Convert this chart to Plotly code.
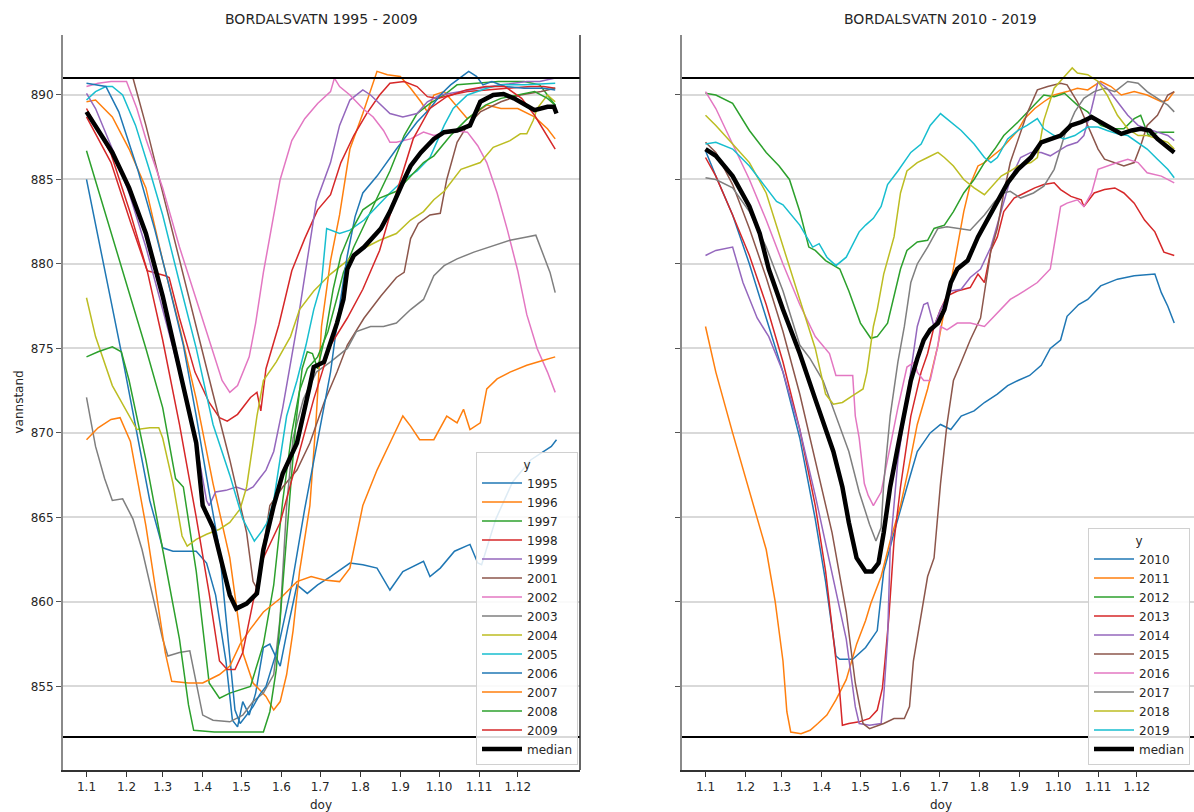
import plotly.graph_objects as go

# ---- axis ticks / reference levels ----
TICK_DOY = [1, 32, 60, 91, 121, 152, 182, 213, 244, 274, 305, 335]
TICK_TEXT = ["1.1", "1.2", "1.3", "1.4", "1.5", "1.6", "1.7", "1.8", "1.9", "1.10", "1.11", "1.12"]
Y_TICKS = [855, 860, 865, 870, 875, 880, 885, 890]
HRV = 891
LRV = 852

# ---- 1995 - 2009 ----
doy_1995 = [1, 10, 20, 30, 40, 50, 60, 68, 86, 94, 101, 109, 114, 118, 122, 127, 132, 138, 143, 151, 157, 164, 172, 180, 190, 205, 215, 226, 236, 246, 262, 267, 275, 286, 298, 304, 307, 318, 331, 345, 361, 365]
lvl_1995 = [885, 881.5, 877.8, 874, 870, 866, 863.2, 863, 863, 862.3, 860.4, 856.5, 853, 852.6, 854.1, 853.3, 854.6, 857.3, 857.5, 856.2, 858.5, 861, 860.5, 861, 861.5, 862.3, 862.2, 862, 860.7, 861.8, 862.4, 861.5, 862, 863, 863.4, 862.3, 862.2, 864.9, 867.1, 868.4, 869.2, 869.6]

doy_1996 = [1, 8, 21, 34, 47, 60, 73, 86, 99, 112, 122, 130, 140, 146, 151, 156, 161, 166, 174, 179, 183, 190, 197, 205, 215, 223, 226, 234, 244, 252, 260, 265, 270, 278, 285, 296, 311, 322, 335, 348, 358, 364]
lvl_1996 = [889.6, 889.7, 888.7, 886.8, 884.5, 880.2, 876.3, 872, 867, 862.6, 857, 855.2, 854.4, 853.6, 854.1, 855.7, 858.3, 861.8, 865.7, 871, 876.3, 880.2, 882.9, 886.8, 888.9, 890.8, 891.4, 891.2, 891.1, 890.4, 889.6, 889, 890, 890.2, 889.6, 888.6, 889.4, 889.2, 889.2, 888.7, 888, 887.4]

doy_1997 = [1, 21, 34, 47, 60, 70, 76, 86, 96, 104, 112, 120, 128, 138, 146, 153, 160, 166, 172, 180, 188, 195, 200, 208, 215, 226, 236, 247, 257, 267, 278, 288, 303, 320, 340, 352, 358, 364]
lvl_1997 = [886.7, 881.6, 878.4, 875, 871.5, 867.3, 866.8, 861.8, 855.2, 854.3, 854.6, 854.8, 855, 857.5, 861, 866, 870, 872.5, 873.8, 874.5, 876, 878, 879.5, 881, 882.1, 883.9, 885.5, 887.6, 888.9, 889.5, 890, 890.6, 890.7, 890.8, 890.8, 890.6, 890, 889.4]

doy_1998 = [1, 20, 35, 48, 62, 65, 73, 85, 96, 104, 110, 118, 128, 133, 136, 140, 150, 160, 170, 180, 190, 198, 208, 218, 228, 236, 247, 257, 265, 273, 283, 296, 311, 330, 345, 355, 364]
lvl_1998 = [889.2, 886.5, 883, 879.6, 879.3, 879.2, 876.8, 873.6, 871.8, 870.9, 870.7, 871.1, 872.1, 872.4, 871.3, 873.8, 876.4, 879.6, 881.5, 883.2, 884.1, 886, 887.6, 888.9, 890, 890.7, 890.8, 890.5, 889.9, 889.8, 890, 890.2, 890.3, 890.4, 890.5, 890.5, 890.4]

doy_1999 = [1, 8, 21, 34, 47, 60, 73, 86, 94, 96, 101, 109, 117, 125, 130, 135, 140, 146, 153, 164, 172, 179, 190, 197, 205, 215, 221, 228, 236, 246, 257, 265, 275, 291, 306, 322, 342, 352, 364]
lvl_1999 = [890.1, 889.2, 886.8, 884.2, 881, 877.3, 873.6, 869.4, 866, 865.7, 866.5, 866.6, 866.8, 866.6, 866.8, 867.3, 867.8, 868.9, 871.5, 876.3, 880.2, 883.7, 886, 888.2, 889.7, 890.3, 890, 889.5, 888.9, 888.7, 888.9, 889.6, 890, 890.2, 890.4, 890.6, 890.8, 890.8, 891]

doy_2001 = [1, 37, 47, 60, 73, 86, 99, 112, 125, 130, 133, 143, 153, 164, 174, 185, 195, 203, 216, 229, 241, 247, 252, 258, 267, 275, 280, 288, 296, 306, 322, 337, 353, 364]
lvl_2001 = [891, 891, 888.2, 884.2, 880.2, 876.3, 872.3, 868.4, 864.1, 861.2, 860.8, 865.7, 866.8, 867.8, 869.4, 871.8, 873.6, 875.2, 876.8, 878.1, 879.2, 879.5, 881.5, 882.4, 882.9, 883, 885, 887.2, 888.2, 889, 889.6, 890, 890.2, 890.4]

doy_2002 = [1, 10, 20, 32, 40, 47, 60, 73, 86, 99, 106, 112, 118, 127, 132, 138, 145, 151, 160, 170, 180, 190, 193, 197, 205, 215, 223, 231, 236, 241, 252, 262, 270, 285, 296, 304, 311, 319, 327, 335, 342, 350, 358, 364]
lvl_2002 = [890.5, 890.7, 890.8, 890.8, 889.2, 887.4, 884.5, 881, 877.9, 874.7, 873.1, 872.4, 872.8, 874.5, 876.5, 879.5, 882.5, 885, 887.3, 888.6, 889.5, 890.2, 891, 890.5, 890, 889.2, 888.7, 887.9, 887.2, 887.2, 887.4, 887.8, 887.6, 887.9, 887.8, 887, 886, 884.2, 882, 879.6, 877, 875, 873.6, 872.4]

doy_2003 = [1, 8, 15, 21, 29, 37, 44, 52, 60, 64, 73, 81, 86, 91, 99, 112, 122, 130, 138, 146, 151, 156, 161, 169, 179, 190, 203, 210, 221, 231, 241, 252, 262, 270, 278, 288, 301, 316, 329, 342, 349, 355, 360, 364]
lvl_2003 = [872.1, 869.2, 867.3, 866, 866.1, 864.9, 863.1, 860.4, 857.8, 856.8, 857, 857.1, 855.2, 853.3, 853, 852.9, 853.3, 854.1, 854.6, 855.7, 859.1, 865.7, 869.7, 872, 873.6, 874.2, 875, 876, 876.3, 876.3, 876.5, 877.3, 877.9, 879.3, 879.9, 880.3, 880.7, 881.1, 881.4, 881.6, 881.7, 880.5, 879.5, 878.3]

doy_2004 = [1, 8, 21, 34, 40, 50, 57, 60, 68, 75, 79, 86, 94, 104, 112, 120, 125, 130, 133, 138, 148, 159, 166, 177, 190, 203, 215, 228, 241, 252, 262, 270, 278, 291, 306, 316, 329, 337, 342, 347, 350, 358, 364]
lvl_2004 = [878, 875.7, 872.8, 871, 870.2, 870.3, 870.3, 869.7, 867, 863.9, 863.3, 863.7, 864, 864.3, 864.7, 865.5, 866.8, 869.4, 871, 873.1, 874.2, 875.7, 877.3, 878.4, 879.4, 880.2, 880.9, 881.4, 881.8, 882.6, 883.1, 883.8, 884.3, 885.6, 886, 886.9, 887.3, 887.7, 887.7, 888.5, 889.2, 890, 889.6]

doy_2005 = [1, 8, 16, 21, 29, 39, 50, 60, 73, 86, 99, 112, 122, 131, 137, 141, 146, 151, 156, 164, 171, 177, 183, 187, 190, 197, 205, 216, 226, 236, 247, 257, 267, 278, 285, 296, 311, 322, 340, 364]
lvl_2005 = [889.7, 890.2, 890.5, 890.5, 890, 888.2, 885.5, 882.9, 878.9, 875, 870.5, 867.5, 864.9, 863.6, 864.2, 864.7, 866, 868.4, 871, 873.1, 875.2, 877.3, 878.9, 882.1, 882, 881.8, 882, 882.6, 883.4, 884.2, 885, 885.5, 886.3, 888.2, 889.2, 890, 890.4, 890.6, 890.6, 890.7]

doy_2006 = [1, 16, 26, 41, 54, 64, 76, 86, 96, 104, 109, 113, 116, 120, 125, 130, 135, 140, 150, 160, 170, 180, 190, 196, 203, 209, 215, 226, 241, 257, 267, 275, 283, 290, 297, 303, 308, 315, 325, 340, 355, 364]
lvl_2006 = [890.7, 890.5, 889, 885.5, 882, 879, 875.2, 871, 866.5, 863.1, 859.1, 855.7, 853.6, 852.8, 853.3, 853.8, 854.5, 855, 857.5, 861, 865.5, 869.5, 873.6, 877, 880.5, 882.8, 884.2, 885.2, 886.8, 888.4, 889.2, 890, 890.6, 891, 891.4, 891.1, 890.6, 890.8, 890.5, 890.4, 890.4, 890.3]

doy_2007 = [1, 10, 20, 27, 35, 47, 55, 62, 67, 80, 91, 104, 112, 120, 128, 138, 151, 164, 175, 185, 197, 205, 215, 226, 236, 246, 252, 259, 270, 280, 288, 293, 298, 306, 311, 319, 329, 342, 355, 364]
lvl_2007 = [869.6, 870.3, 870.8, 870.9, 869.5, 864.5, 860.5, 857, 855.3, 855.2, 855.2, 855.7, 856.2, 857.5, 858.4, 859.4, 860.2, 861.2, 861.5, 861.3, 861.2, 862, 865.7, 867.8, 869.4, 871, 870.4, 869.6, 869.6, 871, 870.6, 871.4, 870.2, 870.6, 872.6, 873.2, 873.6, 874, 874.3, 874.5]

doy_2008 = [1, 10, 21, 28, 34, 47, 60, 73, 80, 84, 100, 120, 138, 143, 148, 153, 158, 163, 168, 172, 176, 180, 186, 192, 198, 205, 215, 228, 241, 252, 262, 270, 283, 296, 310, 322, 335, 348, 358, 364]
lvl_2008 = [874.5, 874.8, 875.1, 874.8, 873.1, 868.4, 863.1, 857.8, 853.9, 852.4, 852.3, 852.3, 852.3, 853.5, 856, 861, 866, 870.5, 873.8, 874.8, 874.7, 873.8, 875.8, 878.5, 880.5, 881.8, 883.2, 883.9, 884.3, 885.2, 886, 886.4, 887.6, 888.6, 889.4, 889.8, 890, 890.2, 889.8, 889.4]

doy_2009 = [1, 20, 35, 48, 60, 73, 86, 96, 104, 110, 116, 122, 130, 138, 151, 164, 177, 190, 203, 215, 228, 241, 254, 267, 280, 295, 310, 325, 338, 348, 356, 364]
lvl_2009 = [888.7, 886, 882.5, 879.6, 875.5, 870.5, 865, 860.5, 856.5, 856, 856, 857, 860, 862.6, 864.7, 868.4, 872, 875.2, 876.8, 878.5, 880.8, 884.2, 887.4, 889.2, 889.9, 890.3, 890.5, 890.5, 889.8, 888.8, 887.8, 886.8]

doy_med_a = [1, 8, 21, 34, 47, 60, 73, 86, 91, 99, 112, 117, 125, 133, 138, 146, 153, 164, 174, 177, 185, 195, 200, 203, 208, 216, 229, 236, 247, 252, 260, 270, 278, 288, 298, 306, 316, 324, 332, 342, 348, 358, 363, 365]
lvl_med_a = [889, 888.2, 886.6, 884.5, 881.8, 878.1, 873.6, 869.4, 865.7, 864.4, 860.4, 859.6, 859.9, 860.5, 863.1, 865.7, 867.6, 869.4, 872.8, 873.9, 874.2, 876.5, 877.9, 879.7, 880.5, 881, 882.1, 883.1, 885, 885.8, 886.6, 887.4, 887.8, 887.9, 888.2, 889.6, 890, 890.06, 889.8, 889.4, 889.1, 889.3, 889.3, 888.9]

# ---- 2010 - 2019 ----
doy_2010 = [1, 9, 22, 35, 48, 61, 74, 86, 94, 102, 105, 115, 125, 134, 139, 147, 157, 165, 175, 183, 191, 199, 209, 217, 227, 235, 243, 252, 261, 268, 276, 281, 290, 297, 307, 320, 333, 349, 354, 359, 364]
lvl_2010 = [886.7, 885.2, 882.9, 880, 876.8, 873.6, 869.7, 864.9, 861.2, 856.8, 856.6, 856.6, 857.3, 858.3, 861.8, 864.1, 866.8, 868.9, 870, 870.5, 870.2, 871, 871.3, 871.8, 872.3, 872.8, 873.1, 873.4, 874, 875, 875.5, 876.9, 877.6, 877.9, 878.7, 879.1, 879.3, 879.4, 878.3, 877.5, 876.5]

doy_2011 = [1, 9, 22, 35, 48, 55, 61, 64, 67, 75, 82, 88, 95, 102, 110, 118, 125, 129, 137, 144, 152, 158, 165, 173, 181, 186, 191, 196, 201, 206, 212, 217, 225, 230, 237, 243, 248, 256, 263, 271, 281, 289, 297, 307, 315, 323, 333, 343, 354, 359, 364]
lvl_2011 = [876.3, 873.6, 870, 866.5, 863.1, 860, 856.5, 853.5, 852.3, 852.2, 852.4, 852.8, 853.3, 854.2, 855.4, 857.5, 858.9, 859.9, 861.5, 863.6, 865.7, 867.8, 870.5, 872.6, 875.2, 877.3, 878.9, 881, 883.1, 884.7, 885.8, 886, 886.5, 886.8, 887.4, 887.9, 888.6, 889.2, 889.6, 890, 890.2, 890.4, 890.3, 890.8, 890.5, 890, 890.2, 890, 889.6, 889.7, 890.2]

doy_2012 = [1, 9, 22, 35, 48, 58, 66, 74, 81, 86, 94, 105, 112, 121, 129, 134, 142, 147, 152, 157, 165, 173, 178, 186, 193, 201, 209, 217, 225, 232, 243, 253, 263, 271, 279, 289, 297, 307, 315, 325, 333, 338, 344, 352, 364]
lvl_2012 = [890.1, 890, 889.5, 887.9, 886.6, 885.8, 885, 883.1, 881, 880.8, 880.2, 879.7, 878.4, 876.5, 875.6, 875.7, 876.5, 878.1, 879.7, 880.8, 881.3, 881.4, 882.1, 882.3, 883.1, 884.2, 885, 886, 886.8, 887.6, 888.4, 889.2, 890, 889.9, 890.1, 889.4, 889, 888.2, 888, 888, 888.6, 888.8, 887.6, 887.8, 887.8]

doy_2013 = [1, 9, 22, 35, 48, 61, 74, 86, 94, 100, 105, 107, 112, 120, 128, 134, 138, 140, 143, 147, 152, 160, 168, 173, 178, 183, 188, 196, 206, 212, 217, 222, 227, 232, 240, 248, 256, 263, 271, 276, 284, 292, 294, 302, 310, 318, 325, 333, 341, 349, 356, 364]
lvl_2013 = [886.3, 885.2, 882.9, 880.5, 877.6, 874.2, 870.2, 865.7, 861.8, 857.8, 854.6, 852.7, 852.8, 852.9, 853.1, 853.6, 854.9, 856.5, 859.1, 863.6, 866.8, 871, 873.6, 874.7, 876.3, 877.3, 878.1, 878.4, 878.6, 879.4, 878.9, 880.8, 881.6, 883.1, 883.9, 884.2, 884.5, 884.7, 884.8, 884.4, 884, 883.8, 883.4, 884.2, 884.4, 884.5, 884.2, 883.6, 882.6, 881.9, 880.7, 880.5]

doy_2014 = [1, 9, 22, 30, 41, 50, 61, 74, 86, 99, 110, 117, 120, 128, 137, 139, 142, 144, 150, 155, 160, 165, 170, 173, 178, 183, 191, 199, 206, 214, 222, 230, 237, 245, 253, 261, 268, 281, 289, 294, 300, 305, 312, 320, 328, 336, 343, 351, 359, 364]
lvl_2014 = [880.5, 880.8, 881, 878.9, 876.8, 875.7, 873.6, 870.2, 866.3, 861.8, 857.8, 853.8, 852.8, 852.7, 852.8, 854.4, 857.8, 863.1, 868.4, 871, 873.6, 876.3, 877.6, 877.7, 876.3, 877.3, 878.4, 878.5, 879.2, 879.7, 881, 883.1, 885, 886.3, 886.6, 886.6, 886.4, 887, 887.2, 887.6, 889.2, 890.8, 890.4, 889.6, 888.8, 888.2, 888, 887.8, 887.6, 887.3]

doy_2015 = [1, 9, 22, 35, 48, 61, 74, 86, 99, 110, 117, 123, 128, 139, 147, 155, 159, 162, 168, 173, 178, 183, 188, 193, 199, 206, 214, 217, 222, 227, 232, 237, 243, 250, 258, 266, 276, 281, 289, 297, 305, 310, 318, 325, 333, 338, 343, 351, 359, 364]
lvl_2015 = [887.2, 886.6, 884.7, 882.1, 879.2, 876, 872.3, 868.4, 864.1, 859.4, 855.2, 852.8, 852.5, 852.8, 853.1, 853.1, 853.8, 856.5, 859.1, 861.5, 862.6, 867, 870.5, 873.1, 874.2, 875.5, 876.8, 878.4, 880.8, 882.1, 884.2, 886, 887.4, 888.9, 890.3, 890.5, 890.7, 890.6, 889.6, 888.2, 886.8, 886.2, 886, 885.8, 886, 887, 888.2, 888.8, 890, 890.2]

doy_2016 = [1, 9, 22, 35, 48, 61, 74, 86, 97, 102, 115, 117, 120, 124, 127, 131, 137, 142, 150, 157, 163, 165, 170, 175, 181, 183, 188, 196, 206, 217, 227, 237, 248, 258, 268, 274, 276, 281, 289, 294, 300, 305, 312, 320, 328, 336, 343, 354, 364]
lvl_2016 = [890.2, 889.2, 887.1, 885, 882.6, 880, 877.6, 875.7, 874.7, 873.4, 873.4, 871, 869.7, 867, 866.3, 865.7, 866.5, 868.4, 871.5, 873.9, 874.2, 873.6, 873.1, 873.1, 875.2, 876.3, 876.1, 876.5, 876.5, 876.3, 877.1, 877.9, 878.4, 878.9, 879.7, 882.3, 883.4, 883.6, 883.8, 883.4, 884.2, 885.6, 885.8, 886, 886.2, 886, 885.4, 885.2, 884.8]

doy_2017 = [1, 9, 22, 35, 48, 61, 74, 82, 92, 102, 112, 120, 128, 133, 137, 139, 144, 150, 155, 160, 165, 173, 181, 188, 196, 206, 217, 225, 232, 237, 245, 255, 263, 271, 279, 287, 294, 302, 310, 318, 328, 336, 343, 351, 359, 364]
lvl_2017 = [885.1, 885, 884.5, 883.1, 881, 878.4, 875.2, 874.4, 873.1, 871, 868.9, 866.5, 864.6, 863.6, 864.4, 867, 871, 874.2, 876.3, 878.9, 880, 881, 882.1, 882.2, 882.1, 882, 882.9, 883.7, 884.2, 884.3, 883.9, 884.2, 884.6, 885.6, 887.6, 889, 889.8, 890.2, 890.4, 890.2, 890.8, 890.7, 890.2, 889.8, 889.4, 889]

doy_2018 = [1, 9, 22, 35, 48, 61, 74, 86, 94, 100, 107, 115, 123, 126, 131, 134, 139, 147, 152, 157, 165, 173, 181, 186, 193, 201, 209, 217, 222, 230, 237, 243, 253, 258, 263, 271, 279, 285, 289, 297, 305, 312, 320, 328, 336, 343, 351, 359, 364]
lvl_2018 = [888.8, 888.2, 887.1, 886, 884.2, 881, 877.9, 875, 872.3, 871.7, 871.8, 872.2, 872.6, 873.6, 876.3, 877.3, 879.4, 881.6, 884.2, 885.5, 886, 886.3, 886.6, 886.3, 885.8, 885, 884.5, 884.1, 884.5, 885.2, 885.5, 885.8, 886, 886.3, 888.5, 890.4, 891.1, 891.6, 891.3, 891.2, 890.8, 890, 888.8, 888, 887.6, 887.6, 887.4, 887.2, 886.8]

doy_2019 = [1, 9, 22, 35, 48, 56, 61, 74, 84, 89, 95, 102, 110, 115, 120, 125, 131, 137, 142, 150, 160, 168, 175, 183, 191, 199, 209, 217, 222, 227, 235, 243, 250, 258, 263, 271, 279, 287, 297, 305, 312, 320, 328, 336, 343, 351, 359, 364]
lvl_2019 = [887.1, 887.2, 886.8, 885.8, 884.5, 883.7, 883.5, 882.3, 881, 881.2, 880.4, 879.9, 880.4, 881.2, 881.9, 882.3, 882.7, 883.4, 884.7, 885.5, 886.6, 887.1, 888.2, 888.9, 888.4, 887.9, 887.1, 886.3, 886, 886.3, 887.4, 887.9, 888.2, 888.6, 888, 887.6, 887.4, 887.6, 888.1, 888.1, 887.9, 887.7, 887.6, 887.2, 886.8, 886.2, 885.6, 885.1]

doy_med_b = [1, 9, 22, 35, 43, 50, 61, 74, 86, 100, 107, 112, 118, 125, 130, 135, 139, 144, 150, 155, 160, 165, 170, 175, 181, 186, 191, 196, 204, 212, 219, 227, 235, 243, 253, 261, 268, 276, 284, 292, 300, 307, 315, 323, 331, 338, 345, 351, 359, 364]
lvl_med_b = [886.8, 886.4, 885.2, 883.4, 881.8, 879.7, 877.3, 874.7, 872, 868.9, 866.8, 864.7, 862.6, 861.8, 861.8, 862.3, 864.1, 866.8, 869.2, 871.3, 873.1, 874.4, 875.5, 876.1, 876.5, 877.3, 878.9, 879.7, 880.2, 881.6, 882.6, 883.7, 884.8, 885.6, 886.3, 887.2, 887.4, 887.6, 888.2, 888.4, 888.7, 888.4, 888, 887.7, 887.9, 888, 887.9, 887.4, 886.9, 886.6]

TAB10 = ["#1f77b4", "#ff7f0e", "#2ca02c", "#d62728", "#9467bd",
         "#8c564b", "#e377c2", "#7f7f7f", "#bcbd22", "#17becf"]

series_a = [
    ("1995", doy_1995, lvl_1995), ("1996", doy_1996, lvl_1996),
    ("1997", doy_1997, lvl_1997), ("1998", doy_1998, lvl_1998),
    ("1999", doy_1999, lvl_1999), ("2001", doy_2001, lvl_2001),
    ("2002", doy_2002, lvl_2002), ("2003", doy_2003, lvl_2003),
    ("2004", doy_2004, lvl_2004), ("2005", doy_2005, lvl_2005),
    ("2006", doy_2006, lvl_2006), ("2007", doy_2007, lvl_2007),
    ("2008", doy_2008, lvl_2008), ("2009", doy_2009, lvl_2009),
]
series_b = [
    ("2010", doy_2010, lvl_2010), ("2011", doy_2011, lvl_2011),
    ("2012", doy_2012, lvl_2012), ("2013", doy_2013, lvl_2013),
    ("2014", doy_2014, lvl_2014), ("2015", doy_2015, lvl_2015),
    ("2016", doy_2016, lvl_2016), ("2017", doy_2017, lvl_2017),
    ("2018", doy_2018, lvl_2018), ("2019", doy_2019, lvl_2019),
]

W, H = 1194, 812
ML, MR, MT, MB = 63, 0, 35, 42
PW = W - ML - MR
PH = H - MT - MB
FONT = "DejaVu Sans"
TXT = "#262626"

fig = go.Figure()


def add_panel(series, xa, ya, legend, med_doy, med_lvl):
    for i, (name, d, v) in enumerate(series):
        fig.add_trace(go.Scatter(
            x=d, y=v, mode="lines", name=name,
            line=dict(color=TAB10[i % 10], width=1.5),
            xaxis=xa, yaxis=ya, legend=legend, hoverinfo="skip"))
    fig.add_trace(go.Scatter(
        x=med_doy, y=med_lvl, mode="lines", name="median",
        line=dict(color="black", width=4.5),
        xaxis=xa, yaxis=ya, legend=legend, hoverinfo="skip"))


add_panel(series_a, "x", "y", "legend", doy_med_a, lvl_med_a)
add_panel(series_b, "x2", "y2", "legend2", doy_med_b, lvl_med_b)

x_common = dict(
    tickmode="array", tickvals=TICK_DOY, ticktext=TICK_TEXT,
    showgrid=False, zeroline=False, ticks="outside", ticklen=5,
    tickcolor="#333", tickwidth=1,
    showline=True, linecolor="#333", linewidth=1.5,
    tickfont=dict(family=FONT, size=12, color=TXT),
)
y_common = dict(
    range=[850.05, 893.55], tickmode="array", tickvals=Y_TICKS,
    showgrid=True, gridcolor="#d9d9d9", gridwidth=1.5, zeroline=False,
    ticks="outside", ticklen=5, tickcolor="#555", tickwidth=1,
    showline=True, linecolor="#8a8a8a", linewidth=2,
    tickfont=dict(family=FONT, size=12, color=TXT),
)

dom_a = [0, 517 / PW]
dom_b = [619 / PW, 1]
center_a = (321 - ML) / PW
center_b = (941 - ML) / PW

legend_common = dict(
    xref="paper", yref="paper", xanchor="right", yanchor="bottom",
    bgcolor="rgba(255,255,255,0.85)", bordercolor="#d0d0d0", borderwidth=1,
    font=dict(family=FONT, size=12, color=TXT),
    title=dict(text="y", side="top center", font=dict(family=FONT, size=12, color=TXT)),
    tracegroupgap=0, itemwidth=40,
)

fig.update_layout(
    width=W, height=H,
    margin=dict(l=ML, r=MR, t=MT, b=MB),
    paper_bgcolor="white", plot_bgcolor="white",
    font=dict(family=FONT, size=12, color=TXT),
    xaxis=dict(domain=dom_a, range=[-17.2, 383.2], anchor="y", **x_common),
    yaxis=dict(domain=[0, 1], anchor="x", **y_common),
    xaxis2=dict(domain=dom_b, range=[-17.2, 379.3], anchor="y2", **x_common),
    yaxis2=dict(domain=[0, 1], anchor="x2", showticklabels=False, **y_common),
    legend=dict(x=515 / PW, y=5 / PH, **legend_common),
    legend2=dict(x=1127 / PW, y=5 / PH, **legend_common),
    showlegend=True,
)

# regulation limits and right frame edge of the first panel
for xr, yr in (("x domain", "y"), ("x2 domain", "y2")):
    for lvl in (HRV, LRV):
        fig.add_shape(type="line", xref=xr, yref=yr, x0=0, x1=1, y0=lvl, y1=lvl,
                      line=dict(color="black", width=2), layer="above")
fig.add_shape(type="line", xref="x domain", yref="y domain", x0=1, x1=1, y0=0, y1=1,
              line=dict(color="#333", width=1.5), layer="above")

for text, cx in (("BORDALSVATN 1995 - 2009", center_a), ("BORDALSVATN 2010 - 2019", center_b)):
    fig.add_annotation(text=text, xref="paper", yref="paper", x=cx, xanchor="center",
                       y=1, yanchor="bottom", yshift=6, showarrow=False,
                       font=dict(family=FONT, size=14, color=TXT))
    fig.add_annotation(text="doy", xref="paper", yref="paper", x=cx, xanchor="center",
                       y=0, yanchor="middle", yshift=-35, showarrow=False,
                       font=dict(family=FONT, size=12, color=TXT))

fig.add_annotation(text="vannstand", xref="paper", yref="paper", x=0, y=0.5,
                   xanchor="center", yanchor="middle",
                   xshift=-45, textangle=-90, showarrow=False,
                   font=dict(family=FONT, size=12, color=TXT))

fig.write_html("out.html")
